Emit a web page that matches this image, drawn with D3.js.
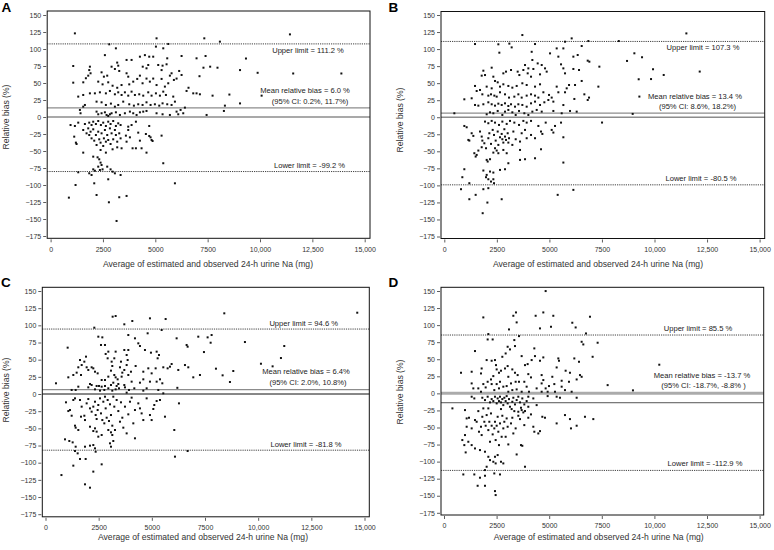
<!DOCTYPE html>
<html><head><meta charset="utf-8">
<script src="https://cdn.jsdelivr.net/npm/d3@7"></script>
<style>body{margin:0;background:#fff}svg{display:block}</style>
</head><body>
<script>
// ---------- DATA ----------
const xTicks = [0, 2500, 5000, 7500, 10000, 12500, 15000];
const yTicks = [150, 125, 100, 75, 50, 25, 0, -25, -50, -75, -100, -125, -150, -175];
const panelLetters = ["A", "B", "C", "D"];
const xTitle = "Average of estimated and observed 24-h urine Na (mg)";
const yTitle = "Relative bias (%)";
// line positions as drawn in each panel
const meanLineValues = [13.4, 6.0, 6.4, -13.7];
const upperLineValues = [107.5, 111.2, 94.6, 85.5];
const lowerLineValues = [-80.2, -99.2, -81.8, -112.9];
const upperTexts = ["Upper limit = 111.2 %", "Upper limit = 107.3 %", "Upper limit = 94.6 %", "Upper limit = 85.5 %"];
const meanTexts = ["Mean relative bias = 6.0 %", "Mean relative bias = 13.4 %", "Mean relative bias = 6.4%", "Mean relative bias = -13.7 %"];
const ciTexts = ["(95% CI: 0.2%, 11.7%)", "(95% CI: 8.6%, 18.2%)", "(95% CI: 2.0%, 10.8%)", "(95% CI: -18.7%, -8.8% )"];
const lowerTexts = ["Lower limit = -99.2 %", "Lower limit = -80.5 %", "Lower limit = -81.8 %", "Lower limit = -112.9 %"];

const pointsA = [[1160,123],[5060,115.7],[7340,115.7],[8085,110.8],[2800,106.9],[3118,101],[5618,107.4],[5380,101],[5030,103.5],[2593,91],[5570,86.3],[5538,77.5],[6255,89.7],[6970,86.3],[7400,89.7],[3628,83.9],[3867,83.9],[4265,88.7],[4503,91],[4710,88.7],[4900,88.7],[4663,76.5],[4400,74],[4580,71.6],
[1081,75],[1877,74],[1845,69],[1908,64.3],[1797,60.8],[1685,57],[1560,51],[1081,50.5],[2912,74],[3070,70.6],[3230,75.5],[3180,80],[3278,67.7],[3628,64.3],[3708,59.3],[2434,65.7],[2545,59.3],[2704,60.8],[2275,52],[2482,48],[2752,51],[2960,46],[3182,43],[3388,47],[3756,48],[3946,52],[4137,56],[4265,60.8],[4392,49.6],[4580,56.5],[4740,52],[4900,56.5],[5060,47],[5300,56],[5458,44.7],[5618,49.6],[5697,60.8],[5777,64.3],[5888,54.5],[6016,56.5],[6140,67.7],[6255,61.8],[5300,69],[5347,75.5],[5140,76.5],
[7300,72.5],[7620,74],[7970,72.5],[7110,60],[6586,43],[9046,69],[9887,65],[11430,121.5],[11585,64],[13886,64],[10077,31.4],[9046,20],[9330,86],[8538,33],
[1558,32.4],[1320,30],[1877,34.8],[2115,34.8],[2354,36.3],[2640,34.8],[2832,38.3],[3070,33.4],[3230,36.3],[3390,32.4],[3548,36.3],[3708,31.4],[3867,37.3],[4026,32.4],[4233,33.4],[4424,31.4],[4663,36.3],[4822,31.4],[5030,34.8],[5220,31.4],[5380,37.3],[5507,32.4],[5857,30],[5937,22.6],[6493,38.3],[6812,34.8],[6970,34.8],[7130,33.4],[7735,31.4],
[2195,22.6],[2434,21.6],[2640,17.7],[2880,19.7],[3070,15.2],[3230,17.7],[3468,22.6],[3756,18.7],[3978,16.7],[4185,18.7],[4392,17.7],[4580,21.6],[4774,17.7],[4980,18.7],[5188,16.7],[5347,20.1],[5570,18.7],[5777,17.7],[6016,7.9],[6207,10.4],[6414,13.8],[8324,16.7],[8276,8.9],[7450,3],
[1400,10.4],[1430,5.5],[1558,15.2],[1638,17.7],[2195,7.9],[2275,4],[2434,5.5],[2593,6.9],[2673,3],[2752,1.5],[2832,4],[2912,5.5],[3118,6.9],[3310,3],[3548,5.5],[3787,7.9],[3946,5.5],[4106,3],[4265,6.9],[4424,7.9],[4580,8.9],[5060,5.5],[5347,4],[5697,3],[6096,4],[6334,5.5],
[953,-11.8],[1160,-13.2],[1320,-8.3],[1638,-10.3],[1845,-8.3],[1956,-11.8],[2036,-6.9],[2163,-10.3],[2275,-5.9],[2402,-11.8],[2513,-8.3],[2640,-13.2],[2752,-6.9],[2864,-10.3],[2990,-5.9],[3118,-13.2],[3230,-9.3],[3342,-11.8],[3708,-14.2],[3867,-11.8],[4074,-6.9],[4710,-13.2],
[1128,-28.9],[1208,-37.7],[1240,-39.7],[1558,-19.1],[1717,-24],[1797,-16.7],[1845,-26.5],[1908,-21.6],[1956,-31.4],[2036,-18.1],[2084,-34.8],[2163,-26.5],[2195,-41.2],[2275,-21.6],[2322,-32.8],[2386,-37.7],[2434,-24],[2513,-42.6],[2545,-31.4],[2593,-19.1],[2640,-36.3],[2704,-26.5],[2752,-33.8],[2832,-16.7],[2864,-39.7],[2912,-24],[2990,-32.8],[3070,-19.1],[3118,-26.5],[3182,-36.3],[3278,-24],[3342,-31.4],[3390,-46],[3596,-27.4],[3628,-36.3],[3708,-19.1],[3787,-29.9],[3915,-46],[4074,-46],[4185,-23],[4265,-34.8],[4550,-25],[4710,-27.9],[4774,-29.9],[4822,-33.8],[4870,-35.3],[5300,-27.4],[4344,-46],[4580,-52.4],[2960,-47.5],[3182,-44.6],[2386,-48.5],[2640,-52.4],[1558,-52.4],[2036,-58.3],[2243,-59.3],[2322,-62.2],[2386,-67.1],[2434,-70.6],[2275,-73],[2036,-77],[2115,-79],[1845,-82.8],[1956,-85.3],[2354,-77.9],[2481,-77],[2704,-73],[2864,-77],[2960,-80.4],[3070,-82.8],[3342,-85.3],[1320,-81.3],[1192,-100],[2752,-91.6],[2084,-97.5],[873,-118.6],[2195,-114.7],[2784,-125.4],[3278,-118],[3628,-116.1],[3150,-152.9],[5380,-68],[5937,-97.5]];

const pointsB = [[3713,120.6],[6060,115.7],[8300,111.8],[6853,111.8],[1461,107.4],[2571,107],[3094,108],[3205,102.5],[4316,107.4],[5743,110.8],[5664,101],[5347,101],[2619,94.7],[4157,96],[6536,104.5],[5426,88.9],[5030,93.7],[6140,88.9],[6346,91.3],[6822,83],[6901,81.5],[7377,74.2],[7330,44.9],[3840,76.6],[4189,84],[4443,79],[4634,76.6],[4792,71.7],[4871,66.9],[5553,77.6],[5664,71.7],[6140,70.8],[6409,69.3],[5743,64.4],
[2254,72.7],[1858,68.3],[1937,61.9],[1779,61],[2333,59.5],[2413,53.2],[2540,51.2],[2809,64.4],[2936,66.9],[3174,69.3],[3491,66.9],[3570,61.9],[3761,69.3],[3999,71.7],[3967,64.4],[4126,59.5],[4237,70.8],[4554,62.9],[4554,48.3],[4316,44.9],[3919,47.3],[3713,49.8],[3443,45.9],[3237,43.4],[3047,45.9],[2809,48.3],[2650,44.9],[2254,42.4],[2016,44.9],[1699,40],[1540,38.5],[1461,45.9],[1810,33.6],[2095,31.7],[2222,33.6],[2381,31.7],[2492,30.2],[2650,36.6],[2888,33.6],[3079,28.8],[3332,30.2],[3523,33.6],[3681,28.8],[3919,31.7],[4126,33.6],[4316,31.7],[4475,28.8],[4713,36.6],[4982,32.7],[5109,28.8],[5347,44.9],[5426,36.6],[5823,42.4],[5934,47.3],[6219,47.3],[6536,53.2],[6663,33.6],[6822,25.3],[6885,28.8],[6187,26.8],[5743,36.6],[5664,17.9],[5188,22.9],
[953,26.3],[1302,27.8],[1461,18],[1620,17],[1858,19],[2095,21.9],[2254,19],[2413,17],[2571,19.9],[2730,18],[2888,20.4],[3047,16.5],[3174,19],[3364,15.5],[3523,19],[3713,18],[3919,15.5],[4126,20.4],[4316,22.9],[4554,18],[4760,21.9],[4950,25.3],
[478,5.8],[2016,4.3],[2175,7.2],[2333,5.8],[2540,9.2],[2761,3.3],[2888,8.2],[3047,10.7],[3237,7.2],[3396,3.3],[3555,9.2],[3808,5.8],[3999,3.3],[4189,8.2],[4396,10.7],[4634,8.2],[5188,9.2],[5585,5.8],[5981,9.2],[6298,8.2],
[11516,123],[8693,82.6],[9042,93.8],[9407,88],[9930,70.4],[10438,62],[12151,67],[9248,55.7],[9835,56],[9280,30.3],[8962,4.9],[7504,-7.8],
[953,-12.8],[1064,-14.7],[1937,-6.4],[2095,-8.8],[2254,-5.4],[2413,-7.9],[2603,-11.3],[2761,-6.4],[2968,-9.8],[3126,-5.4],[3332,-7.9],[3555,-11.3],[3761,-5.4],[3919,-7.9],[4126,-5.4],[4475,-12.8],[4824,-7.9],[5267,-12.8],[5553,-7.9],
[1144,-33.3],[1191,-34.3],[1381,-27.4],[1302,-23.5],[1699,-21],[1779,-28.4],[1810,-34.3],[1905,-38.2],[1985,-45.5],[2095,-30.8],[2143,-23.5],[2222,-39.1],[2302,-18.6],[2365,-26],[2413,-45.5],[2444,-34.3],[2540,-21],[2571,-40.6],[2650,-29.4],[2730,-24.5],[2761,-32.3],[2809,-37.2],[2857,-17.6],[2888,-28.4],[2936,-33.3],[3015,-23.5],[3047,-37.2],[3079,-30.8],[3237,-40.6],[3285,-21],[3396,-32.3],[3602,-35.7],[3681,-23.5],[3840,-18.6],[3919,-30.8],[4126,-26],[4316,-30.8],[4601,-21],[4665,-24.5],[5109,-18.6],[5188,-22.5],[5664,-29.4],[4601,-47],[4316,-60.2],[3602,-48],[3602,-62.6],[3840,-61.6],[5664,-66.5],[1429,-52.8],[1540,-55.3],[1492,-57.7],[1620,-48.9],[1779,-44],[2016,-62.6],[2063,-65],[2175,-61.6],[2333,-51.9],[2492,-48.9],[2571,-52.8],[2809,-48],[2968,-52.8],[3047,-67.5],[2888,-76.3],[2650,-77.3],[2333,-81.2],[2175,-79.7],[2016,-84.6],[1858,-78.2],[1984,-88],[2095,-91],[2333,-91],[2222,-94.4],[2365,-96.8],[953,-76.3],[858,-88],[795,-105.6],[1191,-96.8],[1191,-120.3],[1492,-113.9],[1858,-105.6],[2095,-104.1],[2050,-125.2],[1826,-140.8],[2730,-120.3],[5394,-113.9],[6140,-106.6]];

const pointsC = [[493,15.6],[1042,67.5],[3157,112.6],[3298,113.6],[2295,96.6],[3706,101.5],[4082,106.3],[4912,110.2],[5649,109.2],[5461,93.2],[4803,88.4],[2484,83.5],[2672,82.5],[3894,85.9],[4207,81.1],[4364,73.8],[4442,69.9],[2609,71.4],[2797,71.4],[2954,61.7],[3298,61.7],[3706,64.1],[3816,56.8],[3894,64.1],[4677,64.1],[4959,60.2],[5226,61.7],[5336,56.8],[5273,52],[6166,81.1],[6636,71.4],[6683,68.9],[7184,83.5],[7623,82.5],[7811,85.9],[7263,27.7],[6949,24.3],[8407,117.5],
[1622,49.5],[1701,42.2],[1826,47.1],[1904,54.4],[1935,38.9],[2013,35],[1543,38.9],[1465,31.1],[1308,27.7],[1073,24.3],[1669,27.7],[2170,38.9],[2248,37.4],[2327,32.5],[2452,30.1],[2829,58.3],[2922,52],[3110,47.1],[3141,40.8],[3235,52],[3502,38.9],[3549,47.1],[3612,31.1],[3706,35],[3816,42.2],[3863,49.5],[3894,27.7],[4019,32.5],[4238,40.8],[4599,32.5],[4834,37.4],[4991,30.1],[5179,37.4],[5539,38.9],[5743,37.4],[5853,39.8],[5931,43.7],[6244,35],[6558,42.2],[6714,38.9],[2954,25.3],[3079,34],[3235,27.7],[3298,24.3],[3392,21.4],[3580,25.3],[2641,20.4],[2797,20.4],[2092,14.6],[2170,13.1],[2405,11.7],[2515,11.7],[2641,10.7],[2797,11.7],[3079,13.1],[3188,16.5],[3345,11.7],[3424,14.6],[3706,13.1],[4050,18],[4442,16.5],[4599,21.4],[4912,18],[5226,18],[5383,21.4],[5493,15.6],[1543,10.7],[1230,5.9],[1418,5.9],[2013,9.7],[2327,6.8],[2563,4.9],[2766,5.9],[2954,8.3],[3141,4.9],[3298,6.8],[3455,8.3],[3737,9.7],[3925,5.9],[4176,8.3],[4599,4.9],[4756,8.3],[5304,5.9],[6200,9],[5539,1],[3816,2],
[14659,118.4],[9378,75.7],[10679,40.3],[10131,44.1],[11071,52.4],[11227,69.9],[8015,36.9],[8328,27.2],[8673,17.5],[8830,33.5],[7451,61.1],[7765,74.7],
[963,-12.1],[1073,-24.8],[1151,-23.3],[1308,-8.7],[1387,-6.3],[1622,-8.7],[1700,-18.4],[1826,-31.6],[1669,-33],[1935,-13.6],[2013,-7.3],[2092,-20.9],[2170,-25.7],[2248,-18.4],[2327,-11.2],[2358,-30.6],[2405,-36.4],[2452,-23.3],[2483,-16],[2563,-6.3],[2609,-28.2],[2672,-37.9],[2719,-11.2],[2766,-42.7],[2797,-3.9],[2829,-20.9],[2876,-34.5],[2922,-8.7],[2985,-39.3],[3032,-15],[3079,-30.6],[3141,-46.1],[3188,-3.9],[3235,-18.4],[3267,-52.4],[3345,-8.7],[3424,-24.8],[3502,-40.3],[3549,-12.1],[3612,-34.5],[3659,-49],[3737,-18.4],[3816,-57.3],[3894,-29.6],[3972,-11.2],[4050,-5.3],[4129,-42.7],[4207,-23.3],[4364,-13.6],[4442,-20.9],[4520,-28.2],[4599,-37.9],[4756,-6.3],[4912,-30.6],[4991,-37.9],[5069,-21.8],[5116,-16],[5226,-10.2],[5383,-8.7],[5618,-33],[6276,-13.6],[6056,-52.4],[1543,-52.4],[1418,-49],[1387,-46.1],[1230,-31.6],[1857,-37.9],[2092,-47.6],[2327,-50],[2248,-53.9],[2405,-54.8],[2483,-62.1],[2641,-59.7],[2954,-52.4],[3079,-55.8],[3141,-59.7],[3188,-68.4],[3032,-71.8],[3079,-76.7],[4207,-64.5],[917,-66],[1120,-68.4],[1277,-70.4],[1418,-76.7],[1387,-83],[1512,-86.4],[1857,-76.7],[2092,-75.2],[2248,-74.3],[2327,-79.1],[2358,-84],[1622,-94.6],[1888,-94.6],[1308,-104.3],[2641,-102.4],[2248,-113],[750,-118],[1857,-131.5],[2092,-136.4],[6683,-83],[6088,-91.2]];

const pointsD = [[4831,149.9],[1869,111.3],[3421,118.6],[3295,113.7],[3453,104],[4356,113.7],[4720,118.6],[5195,113.7],[4562,95.2],[5085,97.6],[6098,103.5],[6257,96.6],[6938,112.3],[6748,87.8],[3089,93.7],[2107,86.9],[2075,79],[2313,79],[3342,78.1],[3564,83.9],[6542,75.6],[6621,71.7],[7302,74.2],[7064,53.6],[1473,62],[2027,48.8],[2265,47.8],[2423,48.8],[1790,36.5],[1758,29.2],[808,30.2],[1315,31.7],[2471,41.4],[2503,35.1],[2772,53.6],[2930,58.5],[3025,68.3],[3136,64.4],[3374,69.3],[3691,54.6],[3849,41.4],[3976,42.9],[4166,48.8],[4293,65.9],[4324,54.6],[4562,47.8],[4720,52.7],[5433,51.2],[5465,47.8],[5354,38],[5781,33.2],[5987,30.2],[6194,51.2],[6416,46.3],[6463,26.8],[6542,24.3],[6305,20.4],[7778,12.1],[3025,40],[3247,35.1],[3374,30.2],[3500,26.8],[4007,28.2],[4134,23.4],[4641,26.8],[4720,19.5],[5148,24.3],[5592,18.5],[2899,36.5],[2708,33.2],[2613,30.2],[3057,24.3],[2344,25.3],[2233,20.4],[2075,17],[1869,13.6],[1980,8.7],[1631,7.3],[1315,14.6],[1394,7.3],[1758,2.4],[2265,13.6],[2503,13.6],[2661,17],[2819,9.8],[2978,10.7],[3184,14.6],[3405,17],[3564,17],[3817,17],[3928,9.8],[4403,7.3],[4641,14.6],[4831,7.3],[4990,10.7],[5243,13.6],[5592,9.8],[5750,4.8],[5940,17],[4926,2.4],[2391,4.8],[2613,7.3],[3057,2.4],[3247,4.8],[3453,5.8],[3691,2.4],[4039,2.4],[4641,2.4],[5275,2.4],[6067,2.4],[10232,42],[8981,4.4],
[400,-22],[1315,-4.9],[1441,-7.4],[1821,-6.4],[1948,-9.8],[2075,-4.9],[2186,-13.2],[2265,-8.4],[2344,-11.3],[2423,-4.9],[2503,-14.7],[2550,-7.4],[2613,-11.3],[2661,-4.9],[2708,-13.2],[2772,-8.4],[2819,-17.2],[2867,-6.4],[2930,-11.3],[2978,-4],[3025,-14.7],[3089,-8.4],[3136,-19.6],[3247,-12.3],[3295,-6.4],[3374,-16.2],[3453,-9.8],[3532,-4.9],[3612,-13.2],[3659,-21.1],[3722,-7.4],[3817,-16.2],[3928,-11.3],[4007,-4.9],[4245,-7.4],[4403,-17.2],[4926,-4],[5354,-4.9],[5512,-6.4],[6305,-6.4],[2107,-22],[3215,-23],[3532,-26.9],[3691,-24.5],[3770,-27.9],[3849,-25.9],[4007,-19.6],[998,-24.5],[1077,-36.7],[1188,-35.7],[1077,-48.9],[871,-68.4],[998,-61.1],[966,-75.8],[1030,-86.5],[1315,-51.3],[1473,-39.1],[1552,-41.6],[1631,-26],[1663,-56.2],[1758,-48.9],[1790,-61.1],[1821,-34.3],[1869,-22],[1917,-41.6],[1980,-47.4],[2027,-31.8],[2107,-53.8],[2154,-41.6],[2186,-70.9],[2233,-29.4],[2265,-47.4],[2313,-60.1],[2391,-51.3],[2423,-41.6],[2455,-68.4],[2503,-47.4],[2550,-34.3],[2582,-56.2],[2613,-75.8],[2661,-44],[2708,-23],[2740,-63.6],[2772,-32.8],[2819,-51.3],[2867,-41.6],[2930,-63.6],[2978,-36.7],[3025,-48.9],[3057,-74.8],[3184,-44],[3247,-35.7],[3295,-58.7],[3342,-26],[3405,-51.3],[3532,-32.8],[3612,-37.7],[3659,-75.8],[3722,-76.8],[3817,-46.5],[4007,-35.7],[4134,-30.8],[4245,-48.9],[4293,-56.2],[4482,-58.7],[4562,-55.3],[4673,-34.3],[4800,-35.7],[5750,-31.8],[5987,-37.7],[6035,-51.3],[6305,-47.4],[6700,-34.3],[7096,-37.7],[5354,-44],[3453,-89.5],[3849,-107.5],[1156,-70.9],[1315,-75.8],[1473,-80.7],[1710,-83.1],[1948,-85.5],[2107,-92.9],[2186,-97.8],[2344,-100.2],[2423,-92.9],[2455,-102.6],[2550,-90.4],[2708,-100.2],[2819,-102.6],[2027,-107.5],[1948,-112.4],[918,-118.8],[1441,-118.8],[1710,-123.6],[1948,-120.7],[2391,-117.3],[2661,-118.8],[1599,-135.4],[1948,-135.4],[2423,-143.2],[2455,-149]];

const panelPoints = [pointsA, pointsB, pointsC, pointsD];

// ---------- LAYOUT ----------
const layout = [
  {frame:[47.2,370,11,238.3], xr:[50.6,364.7], yr:[236,15], letter:[1.5,11.8], yt:[8.5,117], xt:[208,267],
   zeroStyle:{c:"#8c8c8c",w:1.4}, meanStyle:{c:"#8c8c8c",w:1.4},
   txt:{upper:[308,53.3],mean:[305,93.3],ci:[310,104],lower:[309.5,167.5]}},
  {frame:[441,764.7,11.5,238.5], xr:[444.3,759.6], yr:[236.5,15], letter:[388.5,11.8], yt:[402.5,120], xt:[598,267],
   zeroStyle:{c:"#8c8c8c",w:1.4}, meanStyle:{c:"#8c8c8c",w:1.4},
   txt:{upper:[703,50],mean:[695,99],ci:[697.5,109.3],lower:[701,181.3]}},
  {frame:[42.3,369.3,287.3,516.8], xr:[45.5,364.5], yr:[514.2,291], letter:[1,287], yt:[8.5,390], xt:[203,540],
   zeroStyle:{c:"#111",w:1}, meanStyle:{c:"#8c8c8c",w:1.4},
   txt:{upper:[303.7,326],mean:[306,374.3],ci:[308,385.3],lower:[306,447.3]}},
  {frame:[441,763.7,287.3,515], xr:[444,759.6], yr:[512.8,291], letter:[388.5,287], yt:[402.5,392], xt:[598.7,540],
   zeroStyle:{c:"#ababab",w:3}, meanStyle:{c:"#555",w:1},
   txt:{upper:[698,331],mean:[702,377.7],ci:[703.5,388.3],lower:[705,466.3]}}
];

const svg = d3.select("body").append("svg").attr("width", 774).attr("height", 550);
const tickFont = "'Liberation Sans', Arial, sans-serif";
const annFont = "'Liberation Sans Narrow', 'Liberation Sans', Arial, sans-serif";
const xFmt = d => d >= 10000 ? d3.format(",")(d) : String(d);

layout.forEach((L, i) => {
  const x = d3.scaleLinear().domain([0, 15000]).range(L.xr);
  const y = d3.scaleLinear().domain([-175, 150]).range(L.yr);
  const g = svg.append("g");
  const [fx0, fx1, fy0, fy1] = L.frame;

  // axes
  const ya = g.append("g").attr("transform", `translate(${fx0 - 1},0)`)
    .call(d3.axisLeft(y).tickValues(yTicks).tickSize(3).tickPadding(2).tickSizeOuter(0));
  ya.select(".domain").remove();
  ya.selectAll("line").attr("stroke", "#333").attr("stroke-width", 0.8);
  ya.selectAll("text").attr("font-family", tickFont).attr("font-size", 7).attr("fill", "#333");

  const xa = g.append("g").attr("transform", `translate(0,${fy1 + 1})`)
    .call(d3.axisBottom(x).tickValues(xTicks).tickFormat(xFmt).tickSize(3).tickPadding(4.5).tickSizeOuter(0));
  xa.select(".domain").remove();
  xa.selectAll("line").attr("stroke", "#333").attr("stroke-width", 0.8);
  xa.selectAll("text").attr("font-family", tickFont).attr("font-size", 7).attr("fill", "#333");

  // reference lines
  g.append("line").attr("x1", fx0).attr("x2", fx1).attr("y1", y(0)).attr("y2", y(0))
    .attr("stroke", L.zeroStyle.c).attr("stroke-width", L.zeroStyle.w);
  g.append("line").attr("x1", fx0).attr("x2", fx1).attr("y1", y(meanLineValues[i])).attr("y2", y(meanLineValues[i]))
    .attr("stroke", L.meanStyle.c).attr("stroke-width", L.meanStyle.w);
  [upperLineValues[i], lowerLineValues[i]].forEach(v => {
    g.append("line").attr("x1", fx0).attr("x2", fx1).attr("y1", y(v)).attr("y2", y(v))
      .attr("stroke", "#111").attr("stroke-width", 0.8).attr("stroke-dasharray", "1.2,1");
  });

  // frame
  g.append("rect").attr("x", fx0).attr("y", fy0).attr("width", fx1 - fx0).attr("height", fy1 - fy0)
    .attr("fill", "none").attr("stroke", "#111").attr("stroke-width", 1);

  // points
  g.append("g").selectAll("rect").data(panelPoints[i]).join("rect")
    .attr("x", d => x(d[0]) - 1).attr("y", d => y(d[1]) - 1)
    .attr("width", 2).attr("height", 2).attr("fill", "#111");

  // annotations
  const ann = [[upperTexts[i], L.txt.upper], [meanTexts[i], L.txt.mean], [ciTexts[i], L.txt.ci], [lowerTexts[i], L.txt.lower]];
  ann.forEach(([t, p]) => {
    g.append("text").attr("x", p[0]).attr("y", p[1]).attr("text-anchor", "middle")
      .attr("font-family", annFont).attr("font-size", 7.6).attr("fill", "#222").text(t);
  });

  // titles
  g.append("text").attr("x", L.xt[0]).attr("y", L.xt[1]).attr("text-anchor", "middle")
    .attr("font-family", tickFont).attr("font-size", 8.6).attr("fill", "#333").text(xTitle);
  g.append("text").attr("transform", `translate(${L.yt[0]},${L.yt[1]}) rotate(-90)`).attr("text-anchor", "middle")
    .attr("font-family", tickFont).attr("font-size", 8.6).attr("fill", "#333").text(yTitle);
  g.append("text").attr("x", L.letter[0]).attr("y", L.letter[1])
    .attr("font-family", tickFont).attr("font-weight", "bold").attr("font-size", 13.5).attr("fill", "#000").text(panelLetters[i]);
});
</script>
</body></html>
